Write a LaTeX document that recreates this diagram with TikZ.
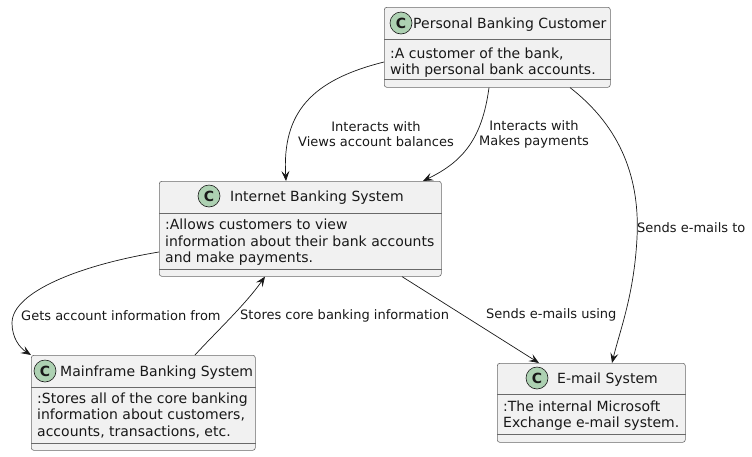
\documentclass[tikz,border=0pt]{standalone}
\usepackage{fontspec}
\setmainfont{DejaVu Sans}
\usetikzlibrary{arrows.meta,calc}
\definecolor{boxfill}{HTML}{F1F1F1}
\definecolor{inkc}{HTML}{181818}
\definecolor{circfill}{HTML}{ADD1B2}
\tikzset{
 classbox/.style={draw=inkc!65, line width=0.6pt, fill=boxfill, rounded corners=2.5pt, inner sep=0, anchor=north west},
 sepline/.style={draw=inkc!65, line width=0.6pt},
 cicon/.style={circle, draw=inkc, line width=0.6pt, fill=circfill, minimum size=22pt, inner sep=0, font=\fontsize{14}{14}\selectfont\bfseries, text=inkc},
 ctitle/.style={anchor=base west, inner sep=0, font=\fontsize{14}{16}\selectfont, text=inkc},
 attr/.style={anchor=base west, inner sep=0, font=\fontsize{14}{16}\selectfont, text=inkc},
 elabel/.style={inner sep=0, font=\fontsize{13}{15.2}\selectfont, text=inkc},
 rel/.style={draw=inkc, line width=0.7pt, -{Stealth[length=10pt,width=8pt,inset=4pt]}},
}
\begin{document}
\begin{tikzpicture}[x=1pt,y=-1pt]
\useasboundingbox (0,0) rectangle (752,456);
% ---------- Personal Banking Customer
\node[classbox, minimum width=226pt, minimum height=80pt] (pbc) at (384,7) {};
\draw[sepline] ([yshift=-32pt]pbc.north west) -- ([yshift=-32pt]pbc.north east);
\draw[sepline] ([yshift=8pt]pbc.south west) -- ([yshift=8pt]pbc.south east);
\node[cicon] (pbcC) at (401,23) {C};
\node[ctitle] (pbcT) at (413,28) {Personal Banking Customer};
\node[attr] (pbcA1) at (390,58) {:A customer of the bank,};
\node[attr] (pbcA2) at (390,74) {with personal bank accounts.};
% ---------- Internet Banking System
\node[classbox, minimum width=282pt, minimum height=95pt] (ibs) at (159,181) {};
\draw[sepline] ([yshift=-32pt]ibs.north west) -- ([yshift=-32pt]ibs.north east);
\draw[sepline] ([yshift=7pt]ibs.south west) -- ([yshift=7pt]ibs.south east);
\node[cicon] (ibsC) at (209,196) {C};
\node[ctitle] (ibsT) at (230,201) {Internet Banking System};
\node[attr] (ibsA1) at (165,229) {:Allows customers to view};
\node[attr] (ibsA2) at (165,246) {information about their bank accounts};
\node[attr] (ibsA3) at (165,262) {and make payments.};
% ---------- Mainframe Banking System
\node[classbox, minimum width=224pt, minimum height=95pt] (mbs) at (31,355) {};
\draw[sepline] ([yshift=-32pt]mbs.north west) -- ([yshift=-32pt]mbs.north east);
\draw[sepline] ([yshift=7pt]mbs.south west) -- ([yshift=7pt]mbs.south east);
\node[cicon] (mbsC) at (45,371) {C};
\node[ctitle] (mbsT) at (60,376) {Mainframe Banking System};
\node[attr] (mbsA1) at (37,403) {:Stores all of the core banking};
\node[attr] (mbsA2) at (37,419) {information about customers,};
\node[attr] (mbsA3) at (37,436) {accounts, transactions, etc.};
% ---------- E-mail System
\node[classbox, minimum width=188pt, minimum height=79pt] (ems) at (497,363) {};
\draw[sepline] ([yshift=-31pt]ems.north west) -- ([yshift=-31pt]ems.north east);
\draw[sepline] ([yshift=8pt]ems.south west) -- ([yshift=8pt]ems.south east);
\node[cicon] (emsC) at (537,378) {C};
\node[ctitle] (emsT) at (557,383) {E-mail System};
\node[attr] (emsA1) at (503,411) {:The internal Microsoft};
\node[attr] (emsA2) at (503,427) {Exchange e-mail system.};
% ---------- relations
\draw[rel] ([yshift=-55pt]pbc.north west) .. controls (312,80) and (282,112) .. ([xshift=127pt]ibs.north west);
\draw[rel] ([xshift=105pt]pbc.south west) .. controls (482,140) and (462,162) .. ([xshift=264pt]ibs.north west);
\draw[rel] ([xshift=186pt]pbc.south west) .. controls (622,128) and (640,180) .. (637,238) .. controls (634,295) and (620,330) .. ([xshift=115pt]ems.north west);
\draw[rel] ([xshift=243pt]ibs.south west) -- ([xshift=42pt]ems.north west);
\draw[rel] ([yshift=-71pt]ibs.north west) .. controls (80,265) and (12,292) .. (12,323) .. controls (12,338) and (20,348) .. (mbs.north west);
\draw[rel] ([xshift=164pt]mbs.north west) .. controls (215,333) and (245,305) .. ([xshift=106pt]ibs.south west);
% ---------- labels
\node[elabel, align=center] (l1) at (376,134.5) {Interacts with\\Views account balances};
\node[elabel, align=center] (l2) at (534,134.5) {Interacts with\\Makes payments};
\node[elabel, anchor=west] (l3) at (637,228) {Sends e-mails to};
\node[elabel, anchor=west] (l4) at (486,315) {Sends e-mails using};
\node[elabel, anchor=west] (l5) at (21,316) {Gets account information from};
\node[elabel, anchor=west] (l6) at (240,316) {Stores core banking information};
\end{tikzpicture}
\end{document}
